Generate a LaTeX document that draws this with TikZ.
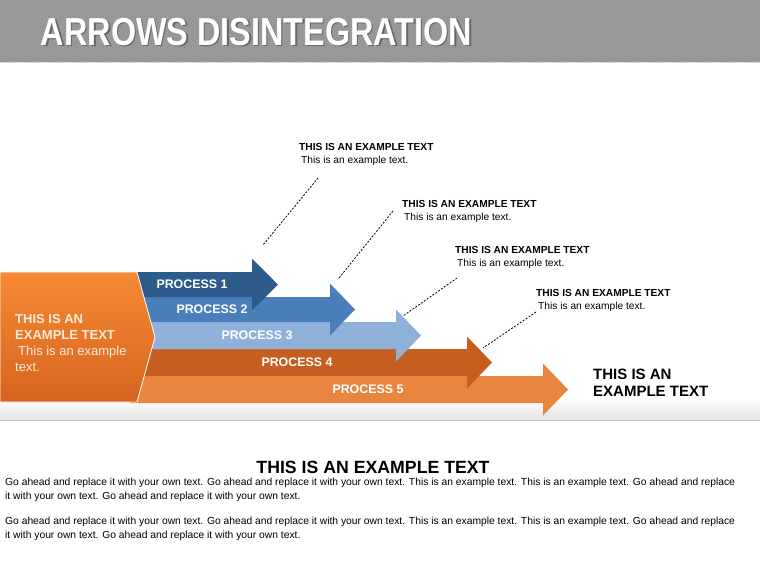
\documentclass[tikz,border=0pt]{standalone}
\usepackage{fontspec}
\setmainfont{Liberation Sans}
\usepackage{tikz}
\usetikzlibrary{positioning, calc}

\definecolor{bandgray}{HTML}{8C8C8C}
\definecolor{stripegray}{HTML}{A9A9A9}
\definecolor{pone}{HTML}{2E5C8A}
\definecolor{ptwo}{HTML}{4A7EBB}
\definecolor{pthree}{HTML}{8FB0D9}
\definecolor{pfour}{HTML}{C65E1F}
\definecolor{pfive}{HTML}{E8863F}
\definecolor{chevtop}{HTML}{F68A36}
\definecolor{chevbot}{HTML}{D5641F}
\definecolor{leadtext}{HTML}{FDEBD6}

\begin{document}
\begin{tikzpicture}[x=1pt, y=-1pt,
  proc/.style={font=\bfseries\fontsize{12.4}{14}\selectfont, text=white, inner sep=0pt},
  callout/.style={anchor=west, align=left, inner sep=0pt, font=\fontsize{10.2}{13}\selectfont},
  leader/.style={dashed, dash pattern=on 2pt off 1.5pt, line width=0.8pt}]

\useasboundingbox (0,0) rectangle (760,570);

% Header band with stripes
\fill[bandgray] (0,0) rectangle (760,62);
\begin{scope}
\clip (0,0) rectangle (760,62);
\foreach \i in {0,3,...,840}
  \draw[stripegray, line width=0.7pt] (\i-70,62) -- (\i,0);
\end{scope}
\draw[black!15, line width=1pt] (0,62.5) -- (760,62.5);

% Title
\node[anchor=west, text=black!60, xscale=0.83, font=\bfseries\fontsize{39}{40}\selectfont] at (39.5,33.5) {ARROWS DISINTEGRATION};
\node[anchor=west, text=white, xscale=0.83, font=\bfseries\fontsize{39}{40}\selectfont] (title) at (38,32) {ARROWS DISINTEGRATION};

% Floor under the arrows
\shade[top color=white, bottom color=black!11] (0,398) rectangle (760,420);
\draw[black!22, line width=1pt] (0,420.5) -- (760,420.5);

% Process arrows, last one first
\foreach \t/\b/\s/\e/\c in {376/403/543/568/pfive, 349/376/467/492/pfour, 322/349/396/421/pthree, 297/322/330/355/ptwo, 272/297/252/278/pone}{
  \pgfmathsetmacro{\m}{(\t+\b)/2}
  \fill[\c] (130,\t) -- (\s,\t) -- (\s,\m-26) -- (\e,\m) -- (\s,\m+26) -- (\s,\b) -- (130,\b) -- cycle;
}

\node[proc] (p1) at (192,284.5) {PROCESS 1};
\node[proc] (p2) at (212,309.5) {PROCESS 2};
\node[proc] (p3) at (257,335.5) {PROCESS 3};
\node[proc] (p4) at (297,362.5) {PROCESS 4};
\node[proc] (p5) at (368,389.5) {PROCESS 5};

% Lead chevron
\shade[top color=chevtop, bottom color=chevbot, draw=white, line width=0.8pt]
  (0,272) -- (137,272) -- (155,337) -- (137,402) -- (0,402) -- cycle;
\node[anchor=west, align=left, inner sep=0pt, text=leadtext, font=\fontsize{13}{16}\selectfont] (lead) at (15,343)
  {\textbf{THIS IS AN}\\\textbf{EXAMPLE TEXT}\\\hspace{3pt}This is an example\\text.};

% Callouts
\node[callout] (c1) at (299,154.5) {\textbf{THIS IS AN EXAMPLE TEXT}\\\hspace{2pt}This is an example text.};
\node[callout] (c2) at (402,211) {\textbf{THIS IS AN EXAMPLE TEXT}\\\hspace{2pt}This is an example text.};
\node[callout] (c3) at (455,257.5) {\textbf{THIS IS AN EXAMPLE TEXT}\\\hspace{2pt}This is an example text.};
\node[callout] (c4) at (536,300.5) {\textbf{THIS IS AN EXAMPLE TEXT}\\\hspace{2pt}This is an example text.};

\coordinate (l1a) at (318,178);
\coordinate (l1b) at (263,245);
\coordinate (l2a) at (393,211);
\coordinate (l2b) at (339,278);
\coordinate (l3a) at (457,278);
\coordinate (l3b) at (403,316);
\coordinate (l4a) at (536,312);
\coordinate (l4b) at (483,348);
\draw[leader] (l1a) -- (l1b);
\draw[leader] (l2a) -- (l2b);
\draw[leader] (l3a) -- (l3b);
\draw[leader] (l4a) -- (l4b);

% Result text
\node[anchor=west, align=left, inner sep=0pt, font=\bfseries\fontsize{15}{17}\selectfont] (result) at (593,382.5) {THIS IS AN\\EXAMPLE TEXT};

% Bottom text
\node[inner sep=0pt, font=\bfseries\fontsize{17.7}{20}\selectfont] (note) at (373,467) {THIS IS AN EXAMPLE TEXT};
\node[anchor=north west, align=left, inner sep=0pt, font=\fontsize{10.3}{14}\selectfont] (para1) at (5,477.5)
  {Go ahead and replace it with your own text. Go ahead and replace it with your own text. This is an example text. This is an example text. Go ahead and replace\\it with your own text. Go ahead and replace it with your own text.};
\node[anchor=north west, align=left, inner sep=0pt, font=\fontsize{10.3}{14}\selectfont] (para2) at (5,516.5)
  {Go ahead and replace it with your own text. Go ahead and replace it with your own text. This is an example text. This is an example text. Go ahead and replace\\it with your own text. Go ahead and replace it with your own text.};

\end{tikzpicture}
\end{document}
